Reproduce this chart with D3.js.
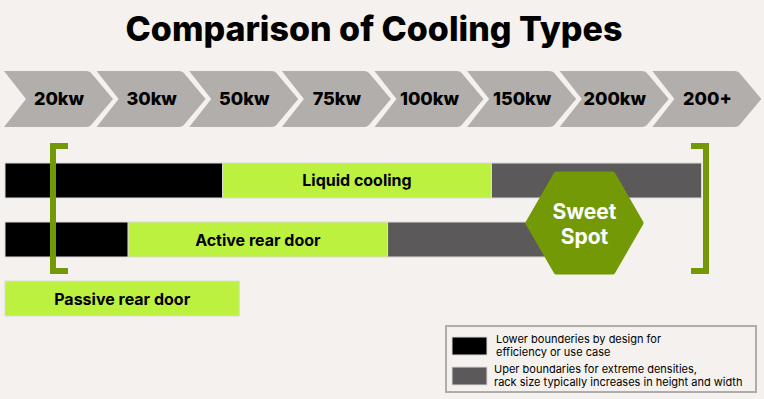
<!DOCTYPE html>
<html>
<head>
<meta charset="utf-8">
<script src="https://cdn.jsdelivr.net/npm/d3@7"></script>
<style>
  body { margin: 0; background: #f4f1ee; }
  svg { display: block; }
  text { font-family: Inter, "Liberation Sans", sans-serif; }
</style>
</head>
<body>
<div id="chart"></div>
<script>
// stages shown in the chevron row
const stages = ["20kw", "30kw", "50kw", "75kw", "100kw", "150kw", "200kw", "200+"]

// bars, positions in stage units (0 = start of 20kw, 8 = end of 200+)
const barNames = ["Liquid cooling", "Active rear door", "Passive rear door"]
const lowerBound = [[0, 2.35], [0, 1.33], null]
const coolingRange = [[2.35, 5.25], [1.33, 4.13], [0, 2.53]]
const upperBound = [[5.25, 7.52], [4.13, 5.9], null]

const legendItems = [
  ["Lower bounderies by design for", "efficiency or use case"],
  ["Uper boundaries for extreme densities,", "rack size typically increases in height and width"]
]

const width = 764, height = 399

const svg = d3.select("#chart")
  .append("svg")
    .attr("width", width)
    .attr("height", height)

svg.append("rect")
  .attr("width", width).attr("height", height)
  .attr("fill", "#f4f1ee")

// title
svg.append("text")
  .attr("x", 374).attr("y", 41)
  .attr("text-anchor", "middle")
  .style("font-size", "34px")
  .style("font-weight", 800)
  .text("Comparison of Cooling Types")

const x = d3.scaleLinear().domain([0, 8]).range([5, 746])

// chevron row
const chevTop = 71, chevBot = 127, chevMid = 99
const chevron = (x0) => {
  const r = 4
  return `M${x0},${chevTop} L${x0 + 86 - r},${chevTop} Q${x0 + 86},${chevTop} ${x0 + 88},${chevTop + 3}
    L${x0 + 109},${chevMid} L${x0 + 88},${chevBot - 3} Q${x0 + 86},${chevBot} ${x0 + 86 - r},${chevBot}
    L${x0},${chevBot} L${x0 + 22},${chevMid} Z`
}

const chev = svg.append("g")
  .selectAll("g")
  .data(stages)
  .join("g")

chev.append("path")
  .attr("d", (d, i) => chevron(x(i) - 1))
  .attr("fill", "#b2aeab")

chev.append("text")
  .attr("x", (d, i) => x(i) + 54)
  .attr("y", 105)
  .attr("text-anchor", "middle")
  .style("font-size", "18px")
  .style("font-weight", 800)
  .text(d => d)

// bars
const rowY = d3.scaleBand().domain(barNames).range([163, 316]).paddingInner(0.407)

const drawSeg = (arr, color) => {
  svg.append("g")
    .selectAll("rect")
    .data(arr.map((d, i) => ({ v: d, name: barNames[i] })).filter(d => d.v))
    .join("rect")
      .attr("x", d => x(d.v[0]))
      .attr("y", d => rowY(d.name))
      .attr("width", d => x(d.v[1]) - x(d.v[0]))
      .attr("height", rowY.bandwidth())
      .attr("fill", color)
      .attr("stroke", "#dcdad7")
      .attr("stroke-width", 1)
}
drawSeg(upperBound, "#5b595a")
drawSeg(lowerBound, "#000")
drawSeg(coolingRange, "#bdf13f")

svg.append("g")
  .selectAll("text")
  .data(barNames)
  .join("text")
    .attr("x", (d, i) => x((coolingRange[i][0] + coolingRange[i][1]) / 2))
    .attr("y", d => rowY(d) + rowY.bandwidth() / 2 + 6)
    .attr("text-anchor", "middle")
    .style("font-size", "16px")
    .style("font-weight", 700)
    .text(d => d)

// brackets
const green = "#739a06"
const bTop = 143, bBot = 274
svg.append("path")
  .attr("d", `M68,${bTop + 3} L53,${bTop + 3} L53,${bBot - 3} L68,${bBot - 3}`)
  .attr("fill", "none").attr("stroke", green).attr("stroke-width", 6)
svg.append("path")
  .attr("d", `M691,${bTop + 3} L706,${bTop + 3} L706,${bBot - 3} L691,${bBot - 3}`)
  .attr("fill", "none").attr("stroke", green).attr("stroke-width", 6)

// sweet spot hexagon
const cx = 584.5, cy = 223, R = 56
const hexPts = d3.range(6).map(k => {
  const a = Math.PI / 3 * k
  return [cx + R * Math.cos(a), cy + R * Math.sin(a)]
})
svg.append("path")
  .attr("d", d3.line().curve(d3.curveLinearClosed)(hexPts))
  .attr("fill", green)
  .attr("stroke", green)
  .attr("stroke-width", 6)
  .attr("stroke-linejoin", "round")

svg.append("text")
  .attr("x", cx).attr("y", 219)
  .attr("text-anchor", "middle")
  .attr("fill", "#fff")
  .style("font-size", "21px")
  .style("font-weight", 700)
  .text("Sweet")
svg.append("text")
  .attr("x", cx).attr("y", 244)
  .attr("text-anchor", "middle")
  .attr("fill", "#fff")
  .style("font-size", "21px")
  .style("font-weight", 700)
  .text("Spot")

// legend
const legend = svg.append("g")
legend.append("rect")
  .attr("x", 446).attr("y", 326)
  .attr("width", 310).attr("height", 66)
  .attr("fill", "none")
  .attr("stroke", "#b0aca9")
  .attr("stroke-width", 2)

const legColors = ["#000", "#5b595a"]
const leg = legend.selectAll(".legends")
  .data(legendItems)
  .join("g")
  .attr("class", "legends")
  .attr("transform", (d, i) => `translate(0,${i * 30})`)

leg.append("rect")
  .attr("x", 452).attr("y", 337)
  .attr("width", 35).attr("height", 18)
  .attr("fill", (d, i) => legColors[i])
  .attr("stroke", "#dcdad7")

// one text per line
leg.selectAll("text")
  .data((d, i) => d.map(t => ({ t: t, i: i })))
  .join("text")
    .attr("x", d => d.i == 0 ? 496 : 494)
    .attr("y", (d, j) => 343 + j * 13)
    .style("font-size", "11px")
    .text(d => d.t)
</script>
</body>
</html>
